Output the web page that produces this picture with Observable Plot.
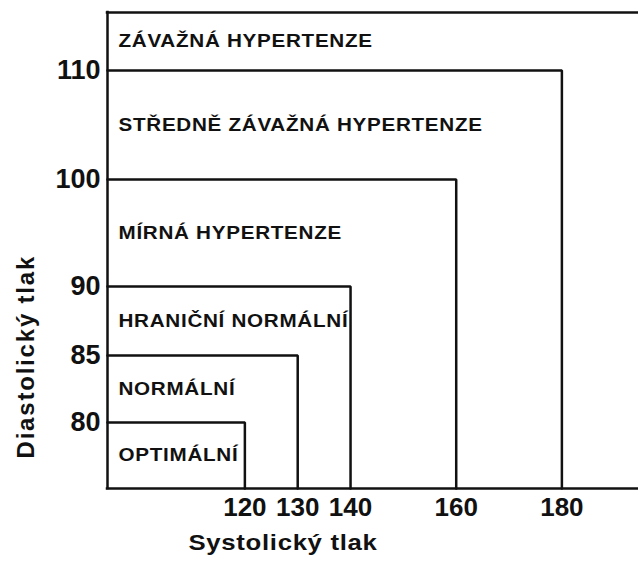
<!DOCTYPE html>
<html><head><meta charset="utf-8">
<script src="https://cdn.jsdelivr.net/npm/d3@7"></script>
<script src="https://cdn.jsdelivr.net/npm/@observablehq/plot@0.6"></script>
<style>
body{margin:0;background:#fff}
</style></head><body><div id="chart"></div>
<script>
const categories = ["OPTIMÁLNÍ","NORMÁLNÍ","HRANIČNÍ NORMÁLNÍ","MÍRNÁ HYPERTENZE","STŘEDNĚ ZÁVAŽNÁ HYPERTENZE","ZÁVAŽNÁ HYPERTENZE"];
const systolicMax = [120,130,140,160,180,null];
const diastolicMax = [80,85,90,100,110,null];
const xTicks = [120,130,140,160,180];
const yTicks = [80,85,90,100,110];
const xTitle = "Systolický tlak";
const yTitle = "Diastolický tlak";

const xMin = 94, xMax = 194.5, yMin = 75, yMax = 115.3;

// The diastolic axis of the original is not linear: 5-mmHg steps below 90,
// 10-mmHg steps above, drawn with similar spacing. Piecewise-linear map.
const yVis = d3.scaleLinear()
  .domain([yMin, ...yTicks, yMax])
  .range([0, 66, 133, 202, 309, 418, 476]);

const lines = [];
categories.forEach((c, i) => {
  const s = systolicMax[i], d = diastolicMax[i];
  if (s == null) return;
  lines.push({cat: c, x: xMin, y: yVis(d)}, {cat: c, x: s, y: yVis(d)}, {cat: c, x: s, y: yVis(yMin)});
});
const labels = categories.map((c, i) => ({
  cat: c,
  x: xMin,
  y: yVis(((i === 0 ? yMin : diastolicMax[i - 1]) + (diastolicMax[i] ?? yMax)) / 2)
}));

const ink = "#111";
const font = "'Liberation Sans', Arial, Helvetica, sans-serif";
const chart = Plot.plot({
  width: 638, height: 565,
  marginLeft: 107, marginRight: 0, marginTop: 12, marginBottom: 77,
  style: {fontFamily: font, fontWeight: "bold", color: ink, background: "#fff"},
  x: {domain: [xMin, xMax]},
  y: {domain: [yVis(yMin), yVis(yMax)]},
  marks: [
    Plot.ruleY([yVis(yMax)], {stroke: ink, strokeWidth: 2.5, strokeLinecap: "square"}),
    Plot.ruleY([yVis(yMin)], {stroke: ink, strokeWidth: 2.5, strokeLinecap: "square"}),
    Plot.ruleX([xMin], {stroke: ink, strokeWidth: 2.5, strokeLinecap: "square"}),
    Plot.line(lines, {x: "x", y: "y", z: "cat", stroke: ink, strokeWidth: 2.5, strokeLinejoin: "miter"}),
    Plot.text(labels, {x: "x", y: "y", text: "cat", textAnchor: "start", dx: 11, fontSize: 17.5, fontFamily: font, fontWeight: "bold", fill: ink}),
    Plot.axisX({ticks: xTicks, tickSize: 0, tickPadding: 9, fontSize: 26, fontFamily: font, fontWeight: "bold", label: null, tickFormat: d => String(d)}),
    Plot.axisY({ticks: yTicks.map(yVis), tickSize: 0, tickPadding: 7, fontSize: 27, fontFamily: font, fontWeight: "bold", label: null,
      tickFormat: v => String(Math.round(yVis.invert(v)))}),
    Plot.text([xTitle], {frameAnchor: "bottom", dx: -90, dy: 61, fontSize: 23, fontFamily: font, fontWeight: "bold", fill: ink}),
    Plot.text([yTitle], {frameAnchor: "bottom-left", textAnchor: "start", rotate: -90, dx: -74, dy: -30, fontSize: 24, fontFamily: font, fontWeight: "bold", fill: ink})
  ]
});
// the original lettering is set wide: widen glyphs horizontally
chart.querySelectorAll("text").forEach(t => {
  const s = t.textContent;
  const tr = t.getAttribute("transform") || "";
  if (categories.includes(s)) {
    t.style.letterSpacing = "0.6px";
    t.setAttribute("transform", tr + " scale(1.18,1)");
  } else if (s === xTitle) {
    t.style.letterSpacing = "0.6px";
    t.setAttribute("transform", tr + " scale(1.12,1)");
  } else if (s === yTitle) {
    t.style.letterSpacing = "1.8px";
  }
});
document.getElementById("chart").appendChild(chart);
</script></body></html>
